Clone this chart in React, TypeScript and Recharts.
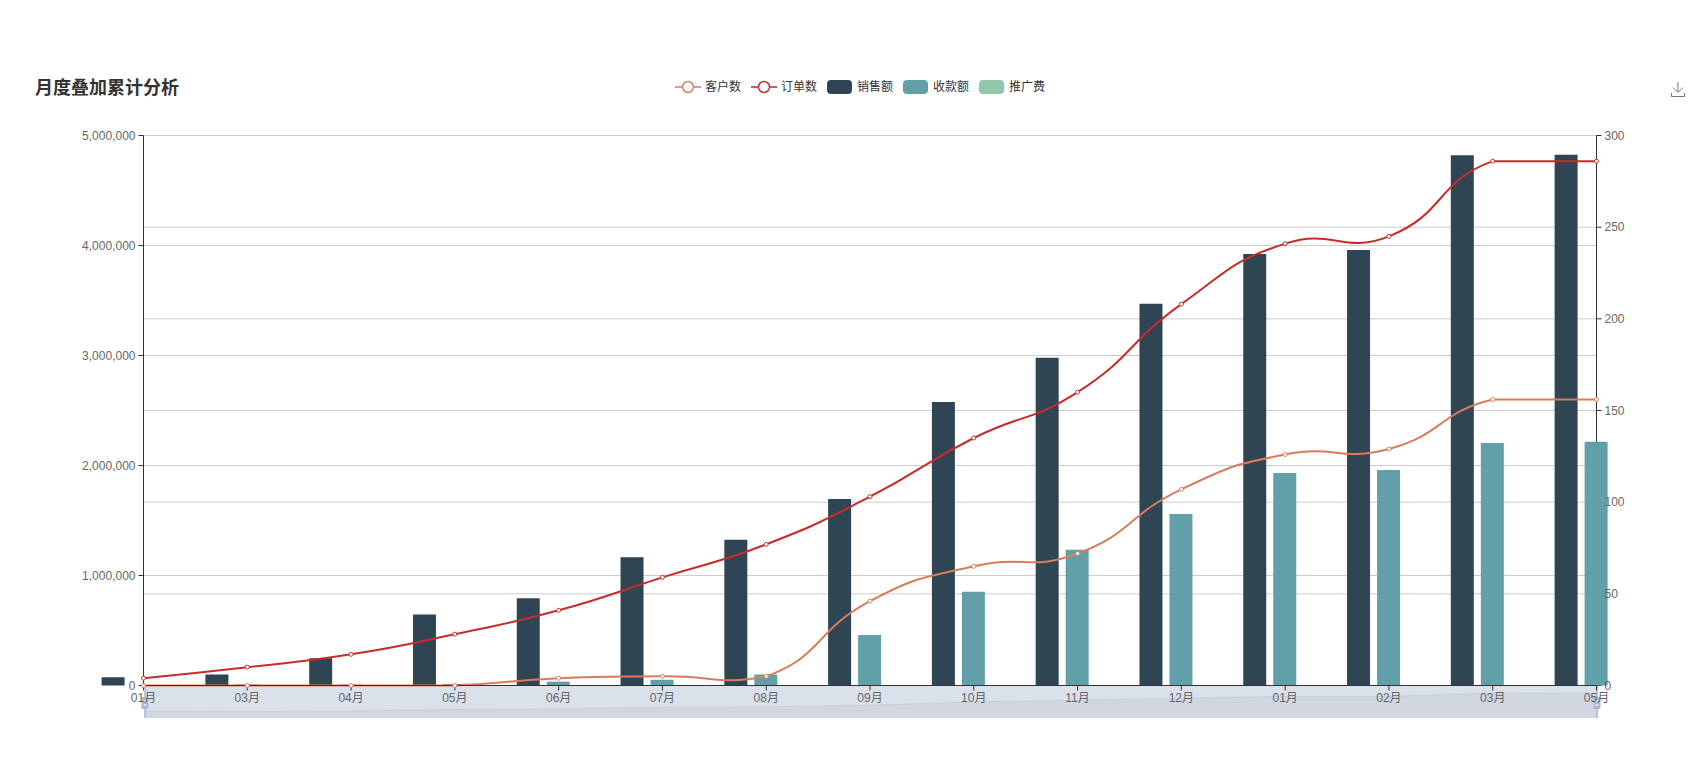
import {
  ComposedChart,
  Bar,
  Line,
  Area,
  XAxis,
  YAxis,
  CartesianGrid,
} from 'recharts';

const months = ['01月', '03月', '04月', '05月', '06月', '07月', '08月', '09月', '10月', '11月', '12月', '01月', '02月', '03月', '05月'];
const sales = [75000, 100000, 248000, 645000, 794000, 1167000, 1324000, 1696000, 2578000, 2980000, 3470000, 3922000, 3960000, 4820000, 4826000];
const receipts = [0, 8000, 8000, 15000, 35000, 52000, 100000, 460000, 853000, 1235000, 1559000, 1931000, 1960000, 2205000, 2215000];
const promotion = [0, 0, 0, 0, 0, 0, 0, 0, 0, 0, 0, 0, 0, 0, 0];
const customers = [0, 0, 0, 0, 4, 5, 5, 46, 65, 72, 107, 126, 129, 156, 156];
const orders = [4, 10, 17, 28, 41, 59, 77, 103, 135, 160, 208, 241, 245, 286, 286];

const leftTicks = [0, 1000000, 2000000, 3000000, 4000000, 5000000];
const rightTicks = [0, 50, 100, 150, 200, 250, 300];

const lineLegend = [
  { name: '客户数', color: '#d48265' },
  { name: '订单数', color: '#c23531' },
];
const barLegend = [
  { name: '销售额', color: '#2f4554' },
  { name: '收款额', color: '#61a0a8' },
  { name: '推广费', color: '#91c7ae' },
];

// month names repeat, so the x axis runs on the row index
const data = months.map((month, i) => ({
  idx: i,
  month,
  sales: sales[i],
  receipts: receipts[i],
  promotion: promotion[i],
  customers: customers[i],
  orders: orders[i],
}));

const FONT = '"Liberation Sans", "Noto Sans CJK SC", sans-serif';

// same smoothing echarts does for smooth lines: control points stay inside the line's min/max
const smoothCurve = (context: any) => {
  let pts: number[][] = [];
  return {
    areaStart() {},
    areaEnd() {},
    lineStart() {
      pts = [];
    },
    point(x: number, y: number) {
      pts.push([x, y]);
    },
    lineEnd() {
      const n = pts.length;
      if (!n) return;
      const ys = pts.map((p) => p[1]);
      const minY = Math.min(...ys);
      const maxY = Math.max(...ys);
      const clamp = (y: number) => Math.min(maxY, Math.max(minY, y));
      const out: number[][] = [];
      const into: number[][] = [];
      pts.forEach((p, i) => {
        if (i === 0 || i === n - 1) {
          out[i] = p;
          into[i] = p;
          return;
        }
        const prev = pts[i - 1];
        const next = pts[i + 1];
        const lenPrev = Math.hypot(p[0] - prev[0], p[1] - prev[1]);
        const lenNext = Math.hypot(next[0] - p[0], next[1] - p[1]);
        const ratio = lenNext / (lenNext + lenPrev || 1);
        const vx = next[0] - prev[0];
        const vy = next[1] - prev[1];
        out[i] = [p[0] + vx * 0.5 * ratio, clamp(p[1] + vy * 0.5 * ratio)];
        into[i] = [p[0] - vx * 0.5 * (1 - ratio), clamp(p[1] - vy * 0.5 * (1 - ratio))];
      });
      context.moveTo(pts[0][0], pts[0][1]);
      for (let i = 0; i < n - 1; i++) {
        context.bezierCurveTo(out[i][0], out[i][1], into[i + 1][0], into[i + 1][1], pts[i + 1][0], pts[i + 1][1]);
      }
    },
  };
};

const SliderHandle = ({ x, y, height }: any) => (
  <g>
    <line x1={x} x2={x} y1={y} y2={y + height} stroke="#a9b7cf" strokeWidth={1.5} />
    <rect x={x - 3.5} y={y + 11} width={7} height={12} rx={1} fill="#a9b9d6" />
    <line x1={x - 1.5} x2={x + 1.5} y1={y + 15} y2={y + 15} stroke="#fff" />
    <line x1={x - 1.5} x2={x + 1.5} y1={y + 19} y2={y + 19} stroke="#fff" />
  </g>
);

function Legend() {
  return (
    <div style={{ position: 'absolute', left: 675, top: 78, display: 'flex', gap: 10, fontSize: 12, color: '#333', lineHeight: '18px' }}>
      {lineLegend.map((item) => (
        <div key={item.name} style={{ display: 'flex', alignItems: 'center', gap: 4 }}>
          <svg width={26} height={14}>
            <line x1={0} x2={26} y1={7} y2={7} stroke={item.color} strokeWidth={2} opacity={0.8} />
            <circle cx={13} cy={7} r={5.5} fill="#fff" stroke={item.color} strokeWidth={1.5} />
          </svg>
          {item.name}
        </div>
      ))}
      {barLegend.map((item) => (
        <div key={item.name} style={{ display: 'flex', alignItems: 'center', gap: 5 }}>
          <div style={{ width: 25, height: 14, borderRadius: 4, background: item.color }} />
          {item.name}
        </div>
      ))}
    </div>
  );
}

export default function App() {
  return (
    <div style={{ position: 'absolute', left: 0, top: 0, width: 1695, height: 780, background: '#fff', fontFamily: FONT }}>
      <div style={{ position: 'absolute', left: 35, top: 76, fontSize: 18, fontWeight: 700, color: '#333', lineHeight: '24px' }}>
        月度叠加累计分析
      </div>
      <Legend />
      <svg style={{ position: 'absolute', left: 1670, top: 81 }} width={16} height={17} fill="none" stroke="#777" strokeWidth={1}>
        <path d="M8 1 V11 M3 6.5 L8 11.5 L13 6.5 M1.5 12 V15.5 H14.5 V12" />
      </svg>
      {/* data zoom strip, sits under the main chart's tick labels */}
      <div style={{ position: 'absolute', left: 145, top: 686, width: 1453, height: 32, background: '#dbe1ea' }}>
        <ComposedChart width={1453} height={32} data={data} margin={{ top: 0, right: 0, bottom: 0, left: 0 }}>
          <XAxis dataKey="idx" type="category" scale="point" hide />
          <YAxis hide domain={[-1510000, 6600000]} />
          <Area
            dataKey="sales"
            type="linear"
            baseValue={-1510000}
            fill="#d0d7e1"
            fillOpacity={1}
            stroke="#c8cfda"
            strokeWidth={1}
            dot={false}
            isAnimationActive={false}
          />
        </ComposedChart>
      </div>
      <div style={{ position: 'absolute', left: 0, top: 0 }}>
        <ComposedChart
          width={1695}
          height={780}
          data={data}
          margin={{ top: 135.5, right: 0, bottom: 0, left: 0 }}
          barSize={23}
          barGap={7}
          style={{ fontFamily: FONT }}
        >
          <CartesianGrid yAxisId="left" vertical={false} stroke="#ccc" />
          <CartesianGrid yAxisId="right" vertical={false} stroke="#ccc" />
          <XAxis
            dataKey="idx"
            type="category"
            scale="point"
            interval={0}
            height={94.5}
            tickSize={5}
            tickMargin={3}
            tickFormatter={(i: number) => months[i]}
            stroke="#333"
            tick={{ fill: '#666', fontSize: 12 }}
          />
          <YAxis
            yAxisId="left"
            width={143.5}
            domain={[0, 5000000]}
            ticks={leftTicks}
            tickFormatter={(v: number) => v.toLocaleString('en-US')}
            tickSize={5}
            tickMargin={3}
            stroke="#333"
            tick={{ fill: '#666', fontSize: 12 }}
          />
          <YAxis
            yAxisId="right"
            orientation="right"
            width={98.5}
            domain={[0, 300]}
            ticks={rightTicks}
            tickSize={5}
            tickMargin={3}
            stroke="#333"
            tick={{ fill: '#666', fontSize: 12 }}
            {...({ zIndex: 250 } as any)}
          />
          <Bar yAxisId="left" dataKey="sales" name="销售额" fill="#2f4554" isAnimationActive={false} />
          <Bar yAxisId="left" dataKey="receipts" name="收款额" fill="#61a0a8" isAnimationActive={false} />
          <Bar yAxisId="left" dataKey="promotion" name="推广费" fill="#91c7ae" isAnimationActive={false} />
          <Line
            yAxisId="right"
            dataKey="customers"
            name="客户数"
            type={smoothCurve as any}
            stroke="#d87c5c"
            strokeWidth={2}
            dot={{ r: 2, fill: '#fff', stroke: '#d48265', strokeWidth: 1 }}
            isAnimationActive={false}
          />
          <Line
            yAxisId="right"
            dataKey="orders"
            name="订单数"
            type={smoothCurve as any}
            stroke="#c92b2b"
            strokeWidth={2}
            dot={{ r: 2, fill: '#fff', stroke: '#c23531', strokeWidth: 1 }}
            isAnimationActive={false}
          />
          <SliderHandle x={145} y={686} height={32} />
          <SliderHandle x={1597} y={686} height={32} />
        </ComposedChart>
      </div>
    </div>
  );
}
